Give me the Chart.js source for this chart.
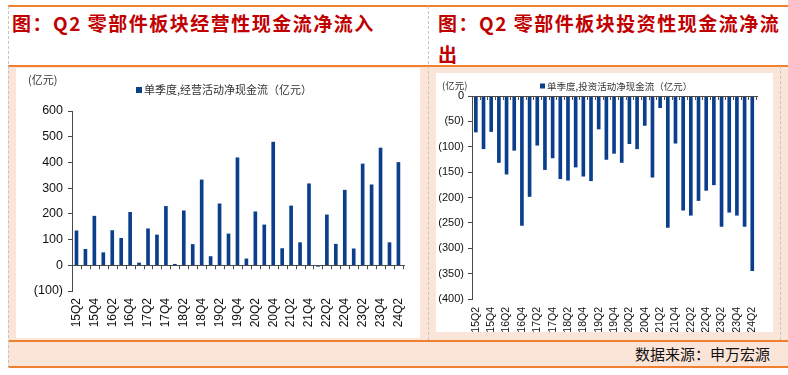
<!DOCTYPE html>
<html>
<head>
<meta charset="utf-8">
<script src="https://cdn.jsdelivr.net/npm/chart.js@4/dist/chart.umd.min.js"></script>
<style>
  html, body { margin: 0; padding: 0; background: #fff; width: 788px; height: 375px; overflow: hidden; }
  .abs { position: absolute; }
  #peach { left: 8px; top: 66px; width: 780px; height: 300px; background: #fbe4d8; }
  #header { left: 8px; top: 6px; width: 780px; height: 60px; background: #fff; }
  .hline { position: absolute; left: 8px; width: 780px; height: 2px; background: #f08030; }
  .vdash { position: absolute; width: 0; border-left: 1px dashed #c4c4c4; }
  .title { position: absolute; font-family: "Noto Sans CJK SC", sans-serif; font-weight: bold;
           color: #c00000; font-size: 19px; letter-spacing: 1.5px; line-height: 31px; white-space: nowrap; }
  #footer { position: absolute; right: 18px; top: 343px; font-family: "Noto Sans CJK SC", sans-serif;
            font-size: 15px; color: #111; line-height: 22px; }
  canvas { position: absolute; background: #fff; }
</style>
</head>
<body>
<div id="peach" class="abs"></div>
<div id="header" class="abs"></div>
<div class="hline" style="top:5px"></div>
<div class="hline" style="top:65px"></div>
<div class="hline" style="top:340px"></div>
<div class="hline" style="top:366px"></div>
<div class="vdash" style="left:8px; top:6px; height:362px"></div>
<div class="vdash" style="left:428px; top:6px; height:334px"></div>
<div class="vdash" style="left:780px; top:66px; height:274px"></div>
<div class="title" style="left:12px; top:7px">图：Q2 零部件板块经营性现金流净流入</div>
<div class="title" style="left:438px; top:7px">图：Q2 零部件板块投资性现金流净流<br>出</div>
<div id="footer">数据来源：申万宏源</div>
<canvas id="opChart" width="404" height="270" style="left:16px; top:68px"></canvas>
<canvas id="invChart" width="337" height="259" style="left:436px; top:73px"></canvas>
<script>
const quarters = [
  "15Q2","15Q3","15Q4","16Q1","16Q2","16Q3","16Q4","17Q1","17Q2","17Q3","17Q4","18Q1","18Q2",
  "18Q3","18Q4","19Q1","19Q2","19Q3","19Q4","20Q1","20Q2","20Q3","20Q4","21Q1","21Q2","21Q3",
  "21Q4","22Q1","22Q2","22Q3","22Q4","23Q1","23Q2","23Q3","23Q4","24Q1","24Q2"
];
// 单季度经营活动净现金流（亿元）
const opCash = [
  134, 62, 191, 49, 135, 105, 206, 9, 142, 118, 229, 4, 212,
  81, 332, 34, 239, 122, 418, 25, 208, 157, 479, 65, 231, 88,
  317, -4, 196, 82, 292, 64, 394, 313, 456, 88, 400
];
// 单季度投资活动净现金流（亿元）
const invCash = [
  -71, -104, -70, -131, -154, -107, -255, -198, -97, -145, -122, -163, -166,
  -140, -158, -167, -65, -125, -113, -131, -94, -104, -58, -160, -23, -259,
  -93, -225, -235, -206, -186, -175, -257, -229, -235, -257, -344
];
const opLabel = "单季度,经营活动净现金流（亿元）";
const invLabel = "单季度,投资活动净现金流（亿元）";
const unitText = "(亿元)";
const barColor = "#0b3f8c";
const axisColor = "#4a4a4a";

// zero line with small ticks between categories, plus unit text and legend
const decor = {
  id: "decor",
  afterDatasetsDraw(chart, args, opts) {
    const { ctx, chartArea, scales: { x, y } } = chart;
    const y0 = y.getPixelForValue(0);
    const n = chart.data.labels.length;
    const slot = (chartArea.right - chartArea.left) / n;
    ctx.save();
    ctx.strokeStyle = axisColor;
    ctx.lineWidth = 1;
    ctx.beginPath();
    ctx.moveTo(chartArea.left, Math.round(y0) + 0.5);
    ctx.lineTo(chartArea.right + 2, Math.round(y0) + 0.5);
    for (let i = 1; i <= n; i++) {
      const px = Math.round(chartArea.left + i * slot) + 0.5;
      ctx.moveTo(px, y0);
      ctx.lineTo(px, y0 + 4);
    }
    ctx.stroke();

    ctx.fillStyle = "#333";
    ctx.textBaseline = "middle";
    ctx.font = opts.font;
    ctx.textAlign = "left";
    ctx.fillText(unitText, opts.unitX, opts.unitY);
    const ds = chart.data.datasets[0];
    ctx.fillStyle = ds.backgroundColor;
    ctx.fillRect(opts.legendX, opts.legendY - opts.box / 2, opts.box, opts.box);
    ctx.fillStyle = "#333";
    ctx.fillText(ds.label, opts.legendX + opts.box + 2, opts.legendY);
    ctx.restore();
  }
};

function paren(v) {
  return v < 0 ? "(" + (-v) + ")" : String(v);
}

function makeChart(id, label, values, cfg) {
  return new Chart(document.getElementById(id), {
    type: "bar",
    data: {
      labels: quarters,
      datasets: [{
        label: label,
        data: values,
        backgroundColor: barColor,
        barThickness: 3
      }]
    },
    options: {
      responsive: false,
      animation: false,
      layout: { padding: cfg.padding },
      plugins: {
        legend: { display: false },
        tooltip: { enabled: false },
        decor: cfg.decor
      },
      scales: {
        x: {
          grid: { display: false, drawTicks: false },
          border: { display: false },
          ticks: {
            autoSkip: false,
            minRotation: 90,
            maxRotation: 90,
            padding: cfg.xPad,
            color: "#111",
            font: { family: "Liberation Sans, Arial", size: cfg.xFont },
            callback: (v, i) => (i % 2 === 0 ? quarters[i] : "")
          },
          afterFit: s => { s.height = cfg.xHeight; }
        },
        y: {
          min: cfg.min,
          max: cfg.max,
          grid: { drawOnChartArea: false, tickLength: 4, color: axisColor },
          border: { display: true, color: axisColor },
          ticks: {
            stepSize: cfg.step,
            padding: cfg.yPad,
            color: "#111",
            font: { family: "Liberation Sans, Arial", size: cfg.yFont },
            callback: v => paren(v)
          },
          afterFit: s => { s.width = cfg.yWidth; }
        }
      }
    },
    plugins: [decor]
  });
}

makeChart("opChart", opLabel, opCash, {
  min: -100, max: 600, step: 100,
  padding: { top: 43, right: 13, left: 0, bottom: 0 },
  xHeight: 47, yWidth: 56, xPad: 7, yPad: 5, xFont: 12, yFont: 12.5,
  decor: { font: "11px 'Noto Sans CJK SC'", unitX: 12, unitY: 12, legendX: 120, legendY: 22, box: 6 }
});

makeChart("invChart", invLabel, invCash, {
  min: -400, max: 0, step: 50,
  padding: { top: 23, right: 10, left: 0, bottom: 0 },
  xHeight: 33, yWidth: 36, xPad: 8, yPad: 4, xFont: 10.5, yFont: 11,
  decor: { font: "9.5px 'Noto Sans CJK SC'", unitX: 6, unitY: 12, legendX: 104, legendY: 13, box: 5 }
});
</script>
</body>
</html>
